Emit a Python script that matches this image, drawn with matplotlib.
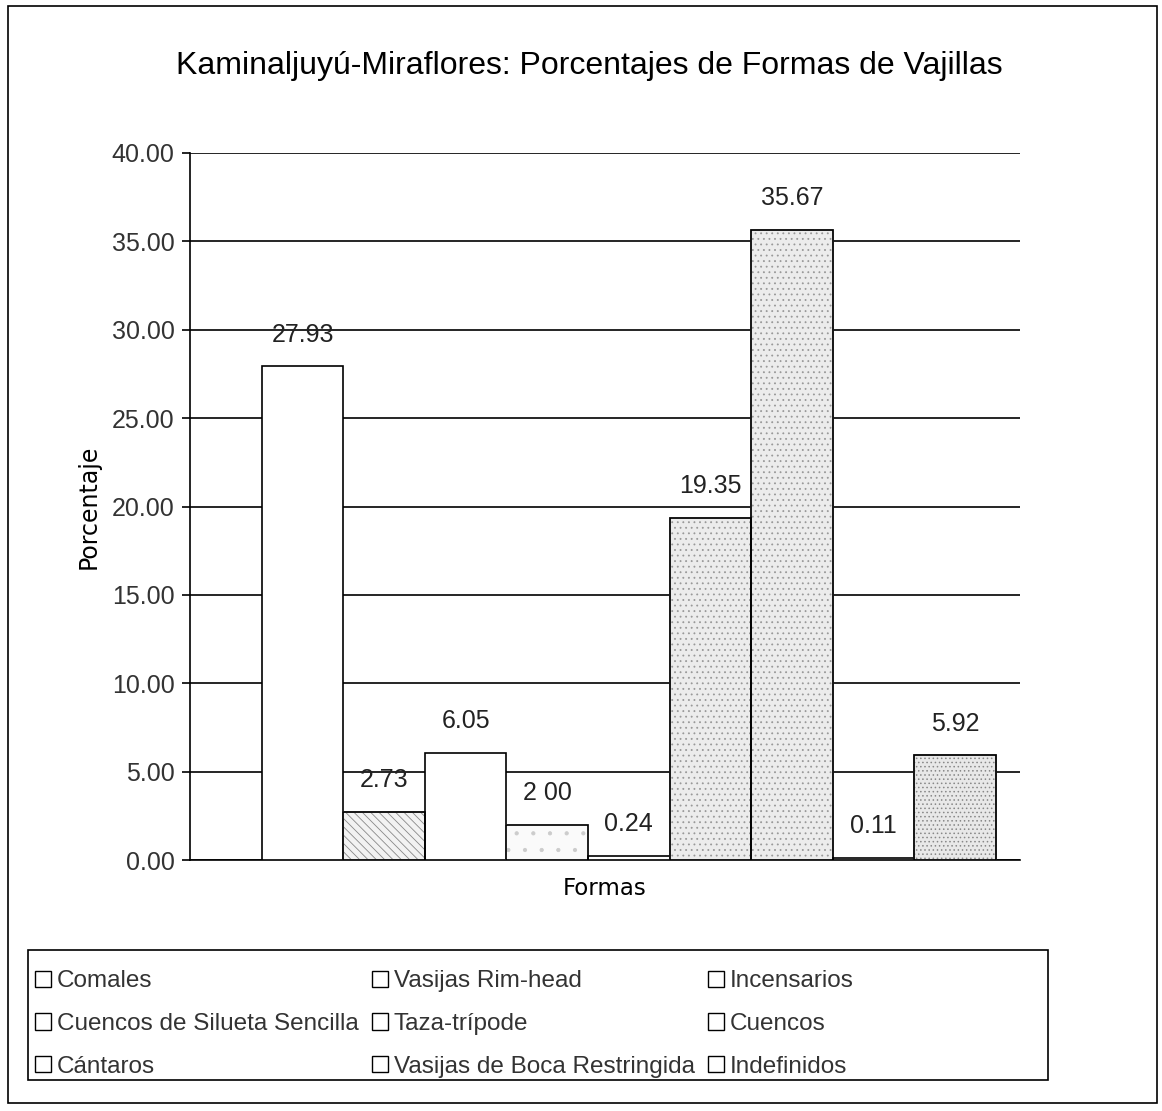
import matplotlib
matplotlib.use("Agg")
import matplotlib.pyplot as plt
from matplotlib.patches import Patch, Rectangle

plt.rcParams['font.family'] = ['Liberation Sans', 'DejaVu Sans']
plt.rcParams['hatch.linewidth'] = 0.6

categories = ["Comales", "Cuencos de Silueta Sencilla", "Cántaros",
              "Vasijas Rim-head", "Taza-trípode", "Vasijas de Boca Restringida",
              "Incensarios", "Cuencos", "Indefinidos"]
values = [27.93, 2.73, 6.05, 2.00, 0.24, 19.35, 35.67, 0.11, 5.92]
labels = ["27.93", "2.73", "6.05", "2 00", "0.24", "19.35", "35.67", "0.11", "5.92"]
yticks = [0, 5, 10, 15, 20, 25, 30, 35, 40]

fills = ['white', '#f2f2f2', 'white', '#fafafa', 'white', '#ececec', '#ececec', 'white', '#e8e8e8']
hatches = [None, '\\\\\\\\', None, '.', None, '...', '...', None, '....']
hatch_cols = ['black', '#888888', 'black', '#cccccc', 'black', '#999999', '#999999', 'black', '#888888']

fig = plt.figure(figsize=(11.62, 11.11), dpi=100)
ax = fig.add_axes([0.1635, 0.2259, 0.878 - 0.1635, 0.8623 - 0.2259])

for i, (v, c) in enumerate(zip(values, categories)):
    b = ax.bar(i, v, width=1.0, color=fills[i], edgecolor='black', linewidth=1.2,
               zorder=3, label=c)
    if hatches[i]:
        b[0].set_hatch(hatches[i])
        b[0].set_edgecolor(hatch_cols[i])
        ax.bar(i, v, width=1.0, color='none', edgecolor='black', linewidth=1.2, zorder=4)
    ax.text(i, v + 1.8, labels[i], ha='center', va='center', fontsize=18,
            color='#222222', zorder=5)

ax.set_ylim(0, 40)
ax.set_xlim(-1.38, 8.8)
ax.set_yticks(yticks)
ax.set_yticklabels([f"{t:.2f}" for t in yticks], fontsize=18, color='#333333')
ax.set_xticks([])
ax.yaxis.grid(True, color='black', linewidth=1.2, zorder=0)
ax.set_axisbelow(True)
for s in ['top', 'right']:
    ax.spines[s].set_visible(False)
ax.spines['left'].set_linewidth(1.2)
ax.spines['bottom'].set_linewidth(1.2)
ax.tick_params(axis='y', direction='out', length=6, width=1.2, pad=5)
ax.set_ylabel("Porcentaje", fontsize=17, labelpad=8, family='DejaVu Sans')
ax.set_xlabel("Formas", fontsize=16.5, labelpad=12, family='DejaVu Sans')

fig.text(0.507, 0.941, "Kaminaljuyú-Miraflores: Porcentajes de Formas de Vajillas",
         ha='center', va='center', fontsize=23)

handles = [Patch(facecolor='white', edgecolor='black', linewidth=1.0) for _ in categories]
leg = fig.legend(handles, categories, ncol=3, loc='upper left',
                 bbox_to_anchor=(0.026, 0.131),
                 fontsize=17.5, frameon=False,
                 handlelength=0.65, handleheight=0.65, handletextpad=0.25,
                 borderaxespad=0, columnspacing=0.55, labelspacing=0.85,
                 borderpad=0.2)
for t in leg.get_texts():
    t.set_color('#333333')

fig.patches.append(Rectangle((28 / 1162, 1 - 1080 / 1111), (1048 - 28) / 1162, 130 / 1111,
                             transform=fig.transFigure, fill=False,
                             edgecolor='black', linewidth=1.2))
fig.patches.append(Rectangle((0.007, 0.007), 0.989, 0.988, transform=fig.transFigure,
                             fill=False, edgecolor='black', linewidth=1.2))

fig.savefig("out.png", dpi=100)
